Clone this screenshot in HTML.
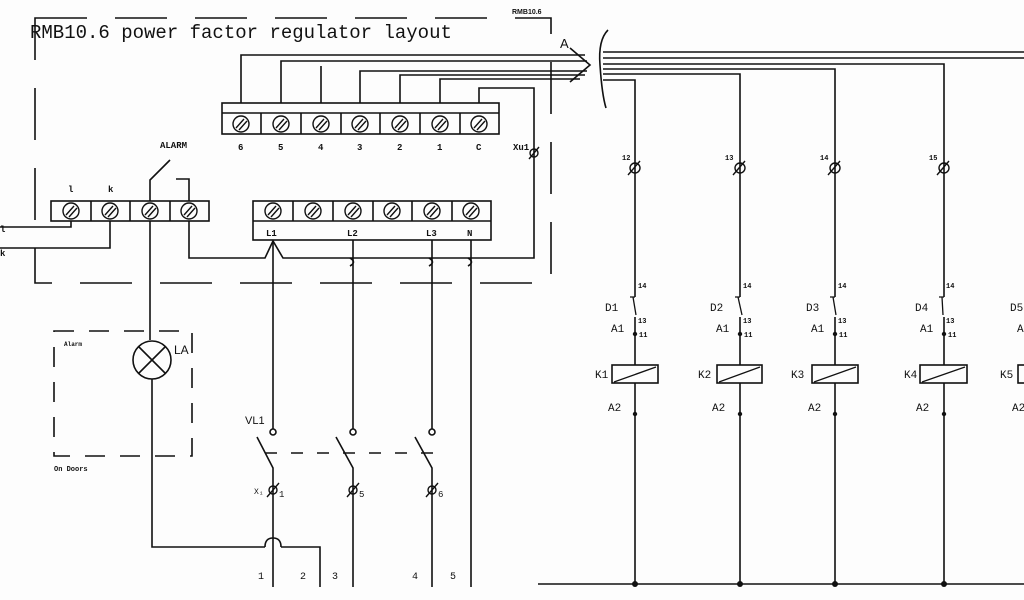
<!DOCTYPE html>
<html><head><meta charset="utf-8"><style>
html,body{margin:0;padding:0;background:#fff;}
svg{display:block;}
text{font-family:"Liberation Mono",monospace;fill:#111;}
.s{font-family:"Liberation Sans",sans-serif;font-weight:bold;}
</style></head><body>
<svg width="1024" height="600" viewBox="0 0 1024 600" xmlns="http://www.w3.org/2000/svg">
<rect width="1024" height="600" fill="#fdfdfd"/>
<g fill="none" stroke="#111" stroke-width="1.6">
<!-- main dashed box -->
<rect x="35" y="18" width="516" height="265" stroke-dasharray="52,28"/>
<!-- alarm dashed box -->
<rect x="54" y="331" width="138" height="125" stroke-dasharray="20,15"/>

<!-- top terminal block -->
<rect x="222" y="103" width="277" height="31"/>
<line x1="222" y1="113" x2="499" y2="113"/>
<line x1="261" y1="113" x2="261" y2="134"/><line x1="301" y1="113" x2="301" y2="134"/><line x1="341" y1="113" x2="341" y2="134"/><line x1="380" y1="113" x2="380" y2="134"/><line x1="420" y1="113" x2="420" y2="134"/><line x1="460" y1="113" x2="460" y2="134"/>
<!-- wires from top block -->
<polyline points="241,103 241,55 585,55"/>
<polyline points="281,103 281,61 587,61"/>
<line x1="321" y1="103" x2="321" y2="66"/>
<polyline points="360,103 360,71 587,71"/>
<polyline points="400,103 400,75 585,75"/>
<polyline points="440,103 440,79 580,79"/>
<polyline points="479,103 479,88 534,88 534,258 283,258 273,241 265,258 189,258 189,221"/>
<!-- arrow chevron -->
<polyline points="570,48 590,65 570,82"/>
<!-- brace -->
<path d="M608,30 Q598,40 600,65 Q602,95 606,108"/>

<!-- left block -->
<rect x="51" y="201" width="158" height="20"/>
<line x1="91" y1="201" x2="91" y2="221"/><line x1="130" y1="201" x2="130" y2="221"/><line x1="170" y1="201" x2="170" y2="221"/>
<polyline points="71,221 71,227 0,227"/>
<polyline points="110,221 110,248 0,248"/>
<polyline points="150,201 150,180 170,160"/>
<polyline points="189,201 189,179 176,179"/>
<line x1="150" y1="221" x2="150" y2="340"/>
<!-- lamp -->
<circle cx="152" cy="360" r="19"/>
<line x1="139" y1="347" x2="165" y2="373"/><line x1="165" y1="347" x2="139" y2="373"/>
<polyline points="152,379 152,547 265,547"/>
<path d="M265,547 Q265,538 273,538 Q281,538 281,547"/>
<polyline points="281,547 320,547 320,587"/>

<!-- right block -->
<rect x="253" y="201" width="238" height="39"/>
<line x1="253" y1="221" x2="491" y2="221"/>
<line x1="293" y1="201" x2="293" y2="221"/><line x1="333" y1="201" x2="333" y2="221"/><line x1="373" y1="201" x2="373" y2="221"/><line x1="412" y1="201" x2="412" y2="221"/><line x1="452" y1="201" x2="452" y2="221"/>
<!-- verticals down -->
<line x1="273" y1="241" x2="273" y2="429"/>
<line x1="353" y1="240" x2="353" y2="429"/>
<line x1="432" y1="240" x2="432" y2="429"/>
<line x1="471" y1="240" x2="471" y2="587"/>
<!-- small bumps at crossings -->
<path d="M350,258 Q357,262 350,266" /><path d="M429,258 Q436,262 429,266"/><path d="M468,258 Q475,262 468,266"/>
<circle cx="273" cy="432" r="3"/><circle cx="353" cy="432" r="3"/><circle cx="432" cy="432" r="3"/>
<polyline points="257,437 273,468 273,587"/>
<polyline points="336,437 353,468 353,587"/>
<polyline points="415,437 432,468 432,587"/>
<line x1="265" y1="453" x2="435" y2="453" stroke-dasharray="12,14"/>

<!-- bus lines -->
<line x1="603" y1="52" x2="1024" y2="52"/>
<line x1="603" y1="58" x2="1024" y2="58"/>
<polyline points="603,64 944,64 944,584"/>
<polyline points="603,69 835,69 835,584"/>
<polyline points="603,74 740,74 740,584"/>
<polyline points="603,80 635,80 635,584"/>
<line x1="538" y1="584" x2="1024" y2="584"/>
</g>
<g fill="#111">
<circle cx="635" cy="584" r="3"/><circle cx="740" cy="584" r="3"/><circle cx="835" cy="584" r="3"/><circle cx="944" cy="584" r="3"/>
</g>

<!-- screws -->
<g fill="none" stroke="#111" stroke-width="1.4">
<g id="sc">
<circle cx="241" cy="124" r="8"/>
</g>
<circle cx="281" cy="124" r="8"/><circle cx="321" cy="124" r="8"/><circle cx="360" cy="124" r="8"/><circle cx="400" cy="124" r="8"/><circle cx="440" cy="124" r="8"/><circle cx="479" cy="124" r="8"/>
<circle cx="71" cy="211" r="8"/><circle cx="110" cy="211" r="8"/><circle cx="150" cy="211" r="8"/><circle cx="189" cy="211" r="8"/>
<circle cx="273" cy="211" r="8"/><circle cx="313" cy="211" r="8"/><circle cx="353" cy="211" r="8"/><circle cx="392" cy="211" r="8"/><circle cx="432" cy="211" r="8"/><circle cx="471" cy="211" r="8"/>
<path d="M236,128l8,-9M239,130l8,-9M276,128l8,-9M279,130l8,-9M316,128l8,-9M319,130l8,-9M355,128l8,-9M358,130l8,-9M395,128l8,-9M398,130l8,-9M435,128l8,-9M438,130l8,-9M474,128l8,-9M477,130l8,-9"/>
<path d="M66,215l8,-9M69,217l8,-9M105,215l8,-9M108,217l8,-9M145,215l8,-9M148,217l8,-9M184,215l8,-9M187,217l8,-9M268,215l8,-9M271,217l8,-9M308,215l8,-9M311,217l8,-9M348,215l8,-9M351,217l8,-9M387,215l8,-9M390,217l8,-9M427,215l8,-9M430,217l8,-9M466,215l8,-9M469,217l8,-9"/>
<!-- terminal symbols -->
<circle cx="534" cy="153" r="4"/><path d="M529,159l10,-12"/>
<circle cx="635" cy="168" r="5"/><path d="M628,175l12,-14"/>
<circle cx="740" cy="168" r="5"/><path d="M733,175l12,-14"/>
<circle cx="835" cy="168" r="5"/><path d="M828,175l12,-14"/>
<circle cx="944" cy="168" r="5"/><path d="M937,175l12,-14"/>
<circle cx="273" cy="490" r="4"/><path d="M267,497l12,-14"/>
<circle cx="353" cy="490" r="4"/><path d="M347,497l12,-14"/>
<circle cx="432" cy="490" r="4"/><path d="M426,497l12,-14"/>
</g>

<!-- relay columns -->
<g fill="#fdfdfd" stroke="#111" stroke-width="1.6">
<rect x="612" y="365" width="46" height="18"/><rect x="717" y="365" width="45" height="18"/><rect x="812" y="365" width="46" height="18"/><rect x="920" y="365" width="47" height="18"/><rect x="1018" y="365" width="20" height="18"/>
<rect x="631" y="297" width="8" height="20" stroke="none"/><rect x="736" y="297" width="8" height="20" stroke="none"/><rect x="831" y="297" width="8" height="20" stroke="none"/><rect x="940" y="297" width="8" height="20" stroke="none"/>
</g>
<g fill="none" stroke="#111" stroke-width="1.3">
<line x1="614" y1="382" x2="656" y2="367"/><line x1="719" y1="382" x2="760" y2="367"/><line x1="814" y1="382" x2="856" y2="367"/><line x1="922" y1="382" x2="965" y2="367"/>
<path d="M630,297h5M633,297l3,18"/><path d="M735,297h5M738,297l4,18"/><path d="M830,297h5M833,297l3,18"/><path d="M939,297h5M942,297l1,18"/>
</g>
<g fill="#111"><circle cx="635" cy="334" r="2.2"/><circle cx="740" cy="334" r="2.2"/><circle cx="835" cy="334" r="2.2"/><circle cx="944" cy="334" r="2.2"/>
<circle cx="635" cy="414" r="2.2"/><circle cx="740" cy="414" r="2.2"/><circle cx="835" cy="414" r="2.2"/><circle cx="944" cy="414" r="2.2"/></g>

<!-- text -->
<text x="30" y="38" font-size="19">RMB10.6 power factor regulator layout</text>
<text x="512" y="14" font-size="7" class="s">RMB10.6</text>
<text x="560" y="48" font-size="13" class="s" style="font-weight:normal">A</text>
<g font-size="9" class="s">
<text x="238" y="150">6</text><text x="278" y="150">5</text><text x="318" y="150">4</text><text x="357" y="150">3</text><text x="397" y="150">2</text><text x="437" y="150">1</text><text x="476" y="150">C</text>
<text x="513" y="150">Xu1</text>
<text x="160" y="148">ALARM</text>
<text x="68" y="192">l</text><text x="108" y="192">k</text>
<text x="266" y="236">L1</text><text x="347" y="236">L2</text><text x="426" y="236">L3</text><text x="467" y="236">N</text>
<text x="0" y="232">l</text><text x="0" y="256">k</text>
<text x="64" y="346" font-size="6">Alarm</text>
<text x="54" y="471" font-size="7">On Doors</text>
<text x="622" y="160" font-size="7">12</text><text x="725" y="160" font-size="7">13</text><text x="820" y="160" font-size="7">14</text><text x="929" y="160" font-size="7">15</text>
</g>
<g font-size="12" font-family="Liberation Sans,sans-serif">
<text x="174" y="354" class="s" style="font-weight:normal">LA</text>
<text x="245" y="424" class="s" style="font-weight:normal" font-size="11">VL1</text>
<text x="254" y="494" font-size="8">X₁</text><text x="279" y="497" font-size="9">1</text><text x="359" y="497" font-size="9">5</text><text x="438" y="497" font-size="9">6</text>
<text x="258" y="579" font-size="10">1</text><text x="300" y="579" font-size="10">2</text><text x="332" y="579" font-size="10">3</text><text x="412" y="579" font-size="10">4</text><text x="450" y="579" font-size="10">5</text>
</g>
<g font-size="11" font-family="Liberation Sans,sans-serif">
<text x="605" y="311">D1</text><text x="710" y="311">D2</text><text x="806" y="311">D3</text><text x="915" y="311">D4</text><text x="1010" y="311">D5</text>
<text x="611" y="332">A1</text><text x="716" y="332">A1</text><text x="811" y="332">A1</text><text x="920" y="332">A1</text><text x="1017" y="332">A</text>
<text x="595" y="378">K1</text><text x="698" y="378">K2</text><text x="791" y="378">K3</text><text x="904" y="378">K4</text><text x="1000" y="378">K5</text>
<text x="608" y="411">A2</text><text x="712" y="411">A2</text><text x="808" y="411">A2</text><text x="916" y="411">A2</text><text x="1012" y="411">A2</text>
</g>
<g font-size="7" class="s">
<text x="638" y="288">14</text><text x="743" y="288">14</text><text x="838" y="288">14</text><text x="946" y="288">14</text>
<text x="638" y="323">13</text><text x="743" y="323">13</text><text x="838" y="323">13</text><text x="946" y="323">13</text>
<text x="639" y="337">11</text><text x="744" y="337">11</text><text x="839" y="337">11</text><text x="948" y="337">11</text>
</g>
</svg>
</body></html>
